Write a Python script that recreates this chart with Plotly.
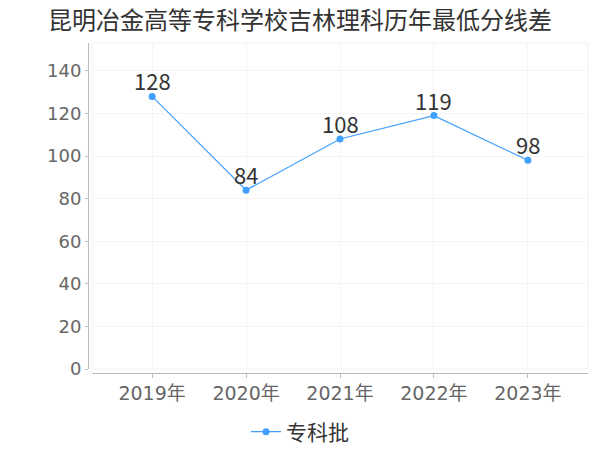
import plotly.graph_objects as go

title = "昆明冶金高等专科学校吉林理科历年最低分线差"
categories = ["2019年", "2020年", "2021年", "2022年", "2023年"]
series_name = "专科批"
values = [128, 84, 108, 119, 98]
y_ticks = [0, 20, 40, 60, 80, 100, 120, 140]

FONT = "DejaVu Sans, Noto Sans CJK SC, sans-serif"
LFONT = "Noto Sans CJK SC, sans-serif"
LINE = "#3FA0FF"

# page body has an 8px margin; size the figure so it fits the 600x450 window
OFF = 8
W, H = 600 - OFF, 450 - OFF


def px(x):
    return (x - OFF) / W


def py(y):
    return (H - (y - OFF)) / H


xs = list(range(len(categories)))

fig = go.Figure()
fig.add_trace(go.Scatter(
    x=xs, y=values, name=series_name,
    mode="lines+markers",
    line=dict(color=LINE, width=1.2),
    marker=dict(color=LINE, size=7),
))

annotations = [
    dict(x=x, y=v, xref="x", yref="y", text=str(v), showarrow=False,
         yanchor="bottom", xanchor="center", yshift=-2,
         font=dict(size=22, color="#333333", family=LFONT))
    for x, v in zip(xs, values)
]

x0, x1 = px(92), px(588)
y0, y1 = py(369), py(43)

fig.update_layout(
    width=W, height=H,
    margin=dict(l=0, r=0, t=0, b=0, autoexpand=False),
    paper_bgcolor="white", plot_bgcolor="white",
    title=dict(text=title, x=px(300), xanchor="center", y=py(21), yanchor="middle",
               font=dict(size=24, color="#333333", family=LFONT)),
    showlegend=True,
    legend=dict(orientation="h", x=px(300), xanchor="center", y=py(432), yanchor="middle",
                font=dict(size=21, color="#333333", family=LFONT), itemwidth=30),
    xaxis=dict(domain=[x0, x1], anchor="free", position=py(372.5),
               automargin=False,
               range=[-0.64, 4.64], tickmode="array",
               tickvals=xs, ticktext=categories,
               showline=True, linecolor="#bbbbbb", linewidth=1,
               ticks="outside", ticklen=4, tickcolor="#bbbbbb",
               showgrid=True, gridcolor="#f4f4f4", zeroline=False,
               tickfont=dict(size=19, color="#666666", family=FONT)),
    yaxis=dict(domain=[y0, y1], anchor="free", position=px(88),
               automargin=False,
               range=[0, 153.1], tickmode="array", tickvals=y_ticks,
               showline=True, linecolor="#bbbbbb", linewidth=1,
               ticks="outside", ticklen=3, tickcolor="#bbbbbb",
               showgrid=True, gridcolor="#f4f4f4", zeroline=False,
               tickfont=dict(size=18, color="#666666", family=FONT)),
    annotations=annotations,
    shapes=[dict(type="rect", xref="paper", yref="paper", x0=x0, x1=x1, y0=y0, y1=y1,
                 line=dict(color="#f0f0f0", width=1), layer="below")],
)

fig.write_html("out.html")
